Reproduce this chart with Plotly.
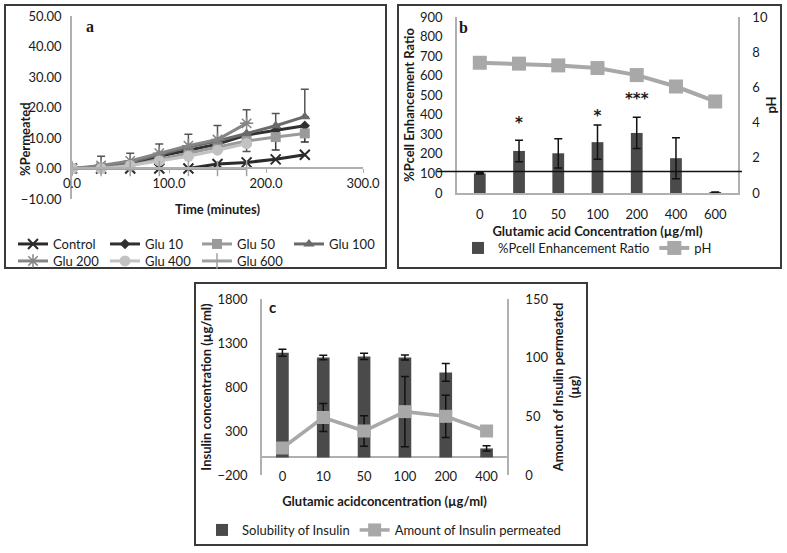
import plotly.graph_objects as go

W, H = 787, 553

# ---------------- Panel a data ----------------
time_min = [0, 30, 60, 90, 120, 150, 180, 210, 240]
time_short = [0, 30, 60, 90, 120, 150, 180]
control = [0, 0, 0, 0, 0, 1.5, 2.0, 3.0, 4.5]
glu10 = [0, 0.5, 1.5, 4.0, 6.0, 8.0, 11.0, 12.5, 14.0]
glu50 = [0, 0.3, 1.0, 3.0, 5.0, 7.0, 9.0, 10.3, 11.5]
glu100 = [0, 0.5, 2.0, 4.5, 7.0, 9.0, 11.5, 14.0, 17.0]
glu200 = [0, 1.0, 2.5, 5.0, 7.5, 9.5, 14.8]
glu400 = [0, 0, 1.0, 2.5, 4.0, 6.0, 8.2]
glu600 = [0, 0, 0, 0, 0, 0, 0]
glu200_err_up = [0, 3.0, 2.5, 3.0, 3.7, 4.6, 4.5]
glu100_err_up = [0, 0, 0, 0, 0, 0, 0, 4.0, 9.0]
glu50_err_down = [0, 0, 0, 0, 0, 0, 0, 4.2, 0]
glu10_err_down = [0, 0, 0, 0, 0, 0, 0, 0, 5.3]
glu400_err_down = [0, 0, 0, 0, 0, 0, 2.6]

# ---------------- Panel b data ----------------
glu_conc_b = ["0", "10", "50", "100", "200", "400", "600"]
pcell_ratio = [100, 215, 203, 260, 307, 178, 3]
pcell_err = [3, 55, 75, 88, 80, 105, 2]
ph_values = [7.4, 7.35, 7.25, 7.1, 6.7, 6.05, 5.2]
sig_labels = ["", "*", "", "*", "***", "", ""]
sig_y = [0, 350, 0, 385, 475, 0, 0]
reference_ratio = 110

# ---------------- Panel c data ----------------
glu_conc_c = ["0", "10", "50", "100", "200", "400"]
solubility = [1190, 1136, 1148, 1136, 966, 102]
solubility_err = [40, 25, 35, 28, 100, 30]
amount_perm = [23, 49, 37.5, 54, 50, 37.5]
amount_err = [0, 12, 13, 30, 18, 0]

FONT = "Lato"
TXT = "#1a1a1a"
AX = "#b0b0b0"
BAR = "#4a4a4a"
LGRAY = "#a8a8a8"


def px_x(x):
    return x / W


def px_y(y):
    return 1 - y / H


fig = go.Figure()

# ---- panel a traces ----
err_style = dict(type="data", thickness=1.5, width=4)
fig.add_trace(go.Scatter(x=time_min, y=control, name="Control", mode="lines+markers",
                         line=dict(color="#2b2b2b", width=3),
                         marker=dict(symbol="x-thin-open", size=10, line=dict(width=2, color="#2b2b2b")),
                         legend="legend", xaxis="x", yaxis="y"))
fig.add_trace(go.Scatter(x=time_min, y=glu10, name="Glu 10", mode="lines+markers",
                         line=dict(color="#303030", width=3),
                         marker=dict(symbol="diamond", size=8, color="#303030"),
                         error_y=dict(err_style, symmetric=False, array=[0]*9, arrayminus=glu10_err_down, color="#303030"),
                         legend="legend", xaxis="x", yaxis="y"))
fig.add_trace(go.Scatter(x=time_min, y=glu50, name="Glu 50", mode="lines+markers",
                         line=dict(color="#9a9a9a", width=3),
                         marker=dict(symbol="square", size=10, color="#9a9a9a"),
                         error_y=dict(err_style, symmetric=False, array=[0]*9, arrayminus=glu50_err_down, color="#3a3a3a"),
                         legend="legend", xaxis="x", yaxis="y"))
fig.add_trace(go.Scatter(x=time_min, y=glu100, name="Glu 100", mode="lines+markers",
                         line=dict(color="#6a6a6a", width=3),
                         marker=dict(symbol="triangle-up", size=10, color="#6a6a6a"),
                         error_y=dict(err_style, symmetric=False, array=glu100_err_up, arrayminus=[0]*9, color="#555555"),
                         legend="legend", xaxis="x", yaxis="y"))
fig.add_trace(go.Scatter(x=time_short, y=glu200, name="Glu 200", mode="lines+markers",
                         line=dict(color="#858585", width=3),
                         marker=dict(symbol="asterisk-open", size=11, line=dict(width=1.5, color="#858585")),
                         error_y=dict(err_style, symmetric=False, array=glu200_err_up, arrayminus=[0]*7, color="#555555"),
                         legend="legend4", xaxis="x", yaxis="y"))
fig.add_trace(go.Scatter(x=time_short, y=glu400, name="Glu 400", mode="lines+markers",
                         line=dict(color="#c2c2c2", width=3),
                         marker=dict(symbol="circle", size=11, color="#c2c2c2"),
                         error_y=dict(err_style, symmetric=False, array=[0]*7, arrayminus=glu400_err_down, color="#555555"),
                         legend="legend4", xaxis="x", yaxis="y"))
fig.add_trace(go.Scatter(x=time_short, y=glu600, name="Glu 600", mode="lines+markers",
                         line=dict(color="#a0a0a0", width=3),
                         marker=dict(symbol="line-ns-open", size=11, line=dict(width=1.5, color="#a0a0a0")),
                         legend="legend4", xaxis="x", yaxis="y"))

# ---- panel b traces ----
fig.add_trace(go.Bar(x=glu_conc_b, y=pcell_ratio, name="%Pcell Enhancement Ratio",
                     marker=dict(color=BAR, line=dict(width=0)), width=0.3,
                     error_y=dict(type="data", array=pcell_err, color="#111", thickness=1.5, width=4),
                     legend="legend2", xaxis="x2", yaxis="y2"))
fig.add_trace(go.Scatter(x=glu_conc_b, y=ph_values, name="pH", mode="lines+markers",
                         line=dict(color=LGRAY, width=4),
                         marker=dict(symbol="square", size=14, color=LGRAY),
                         legend="legend2", xaxis="x2", yaxis="y3"))
fig.add_trace(go.Scatter(x=glu_conc_b, y=sig_y, text=sig_labels, mode="text",
                         textfont=dict(family="DejaVu Sans", size=15, color=TXT, weight="bold"),
                         textposition="middle center",
                         showlegend=False, hoverinfo="skip", xaxis="x2", yaxis="y2"))

# ---- panel c traces ----
fig.add_trace(go.Bar(x=glu_conc_c, y=solubility, name="Solubility of Insulin",
                     marker=dict(color=BAR, line=dict(width=0)), width=0.31,
                     error_y=dict(type="data", array=solubility_err, color="#111", thickness=1.5, width=4),
                     legend="legend3", xaxis="x3", yaxis="y4"))
fig.add_trace(go.Scatter(x=glu_conc_c, y=amount_perm, name="Amount of Insulin permeated", mode="lines+markers",
                         line=dict(color=LGRAY, width=3.5),
                         marker=dict(symbol="square", size=13, color=LGRAY),
                         error_y=dict(type="data", array=amount_err, color="#111", thickness=1.5, width=4),
                         legend="legend3", xaxis="x3", yaxis="y5"))

tickf = dict(family=FONT, size=13, color=TXT)
titlef = dict(family=FONT, size=13, color=TXT, weight="bold")
legf = dict(family=FONT, size=13, color=TXT)

a_dom_y = [px_y(199), px_y(16)]
b_dom_y = [px_y(193), px_y(17)]
c_dom_y = [px_y(475), px_y(299)]

fig.update_layout(
    width=W, height=H, margin=dict(l=0, r=0, t=0, b=0, autoexpand=False),
    paper_bgcolor="white", plot_bgcolor="rgba(0,0,0,0)",
    font=dict(family=FONT, color=TXT),
    barmode="overlay",
    # panel a
    xaxis=dict(domain=[px_x(72), px_x(363)], range=[0, 300], dtick=100, tickformat=".1f",
               anchor="free", position=px_y(168), showline=True, linecolor=AX, linewidth=1.5,
               ticks="outside", ticklen=4, tickcolor=AX, showgrid=False, zeroline=False,
               automargin=False,
               tickfont=tickf, title=dict(text="Time (minutes)", font=titlef, standoff=14)),
    yaxis=dict(domain=a_dom_y, range=[-10, 50], dtick=10, tickformat=".2f", anchor="x",
               showline=True, linecolor=AX, linewidth=1.5, showgrid=False, zeroline=False,
               automargin=False, ticklabelstandoff=6, tickfont=tickf),
    # panel b
    xaxis2=dict(domain=[px_x(457), px_x(738)], anchor="y2", type="category",
                showline=True, linecolor=AX, linewidth=1.5, showgrid=False, zeroline=False,
                automargin=False, tickfont=tickf, ticklabelstandoff=9,
                title=dict(text="Glutamic acid Concentration (µg/ml)", font=titlef, standoff=6)),
    yaxis2=dict(domain=b_dom_y, range=[0, 900], dtick=100, anchor="x2",
                showline=True, linecolor=AX, linewidth=1.5, showgrid=False, zeroline=False,
                automargin=False, tickfont=tickf, ticklabelstandoff=10,
                title=dict(text="%Pcell Enhancement Ratio", font=titlef, standoff=2)),
    yaxis3=dict(range=[0, 10], dtick=2, anchor="x2", overlaying="y2", side="right",
                showline=True, linecolor=AX, linewidth=1.5, showgrid=False, zeroline=False,
                automargin=False, tickfont=tickf, ticklabelstandoff=10,
                title=dict(text="pH", font=titlef, standoff=0)),
    # panel c
    xaxis3=dict(domain=[px_x(262), px_x(507)], anchor="free", position=px_y(467), type="category",
                showline=False, showgrid=False, zeroline=False, tickfont=tickf,
                automargin=False,
                title=dict(text="Glutamic acidconcentration (µg/ml)", font=titlef, standoff=13)),
    yaxis4=dict(domain=c_dom_y, range=[-200, 1800], tick0=-200, dtick=500, anchor="x3",
                showline=True, linecolor=AX, linewidth=1.5, showgrid=False,
                zeroline=True, zerolinecolor=AX, zerolinewidth=1.5,
                automargin=False, tickfont=tickf, ticklabelstandoff=10,
                title=dict(text="Insulin concentration (µg/ml)", font=titlef, standoff=3)),
    yaxis5=dict(range=[0, 150], dtick=50, anchor="x3", overlaying="y4", side="right",
                showline=True, linecolor=AX, linewidth=1.5, showgrid=False, zeroline=False,
                automargin=False, tickfont=tickf, ticklabelstandoff=14,
                title=dict(text="Amount of Insulin permeated<br>(µg)", font=titlef, standoff=6)),
    legend=dict(x=px_x(13), y=px_y(229), xanchor="left", yanchor="top", orientation="h",
                font=legf, bgcolor="rgba(0,0,0,0)", entrywidth=47, entrywidthmode="pixels",
                itemwidth=30, tracegroupgap=0),
    legend4=dict(x=px_x(13), y=px_y(246), xanchor="left", yanchor="top", orientation="h",
                 font=legf, bgcolor="rgba(0,0,0,0)", entrywidth=47, entrywidthmode="pixels",
                 itemwidth=30),
    legend2=dict(x=px_x(458), y=px_y(233), xanchor="left", yanchor="top", orientation="h",
                 font=legf, bgcolor="rgba(0,0,0,0)", itemwidth=30),
    legend3=dict(x=px_x(202), y=px_y(515), xanchor="left", yanchor="top", orientation="h",
                 font=legf, bgcolor="rgba(0,0,0,0)", itemwidth=30),
)

# panel boxes
box = dict(type="rect", xref="paper", yref="paper", line=dict(color="#3a3a3a", width=2), fillcolor="rgba(0,0,0,0)")
fig.add_shape(box, x0=px_x(5), x1=px_x(386), y0=px_y(268), y1=px_y(5))
fig.add_shape(box, x0=px_x(398), x1=px_x(781), y0=px_y(268), y1=px_y(5))
fig.add_shape(box, x0=px_x(195), x1=px_x(587), y0=px_y(545), y1=px_y(283))

# reference line in panel b
fig.add_shape(type="line", xref="paper", yref="y2", x0=px_x(437), x1=px_x(742),
              y0=reference_ratio, y1=reference_ratio, line=dict(color="#111", width=1.5))

# panel a y-axis title (placed as rotated text)
fig.add_annotation(x=px_x(15), y=px_y(100), xref="paper", yref="paper", text="<b>%Permeated</b>",
                   textangle=-90, showarrow=False, font=dict(family=FONT, size=13, color=TXT))

# panel labels
fig.add_annotation(x=px_x(84), y=px_y(16), xref="paper", yref="paper", text="<b>a</b>", showarrow=False,
                   font=dict(family="Liberation Serif", size=16, color=TXT))
fig.add_annotation(x=px_x(464), y=px_y(17), xref="paper", yref="paper", text="<b>b</b>", showarrow=False,
                   font=dict(family="Liberation Serif", size=16, color=TXT))
fig.add_annotation(x=px_x(272), y=px_y(307), xref="paper", yref="paper", text="<b>c</b>", showarrow=False,
                   font=dict(family=FONT, size=15, color=TXT))

fig.write_html("out.html", config={"displayModeBar": False},
               post_script="document.body.style.margin='0';document.body.style.overflow='hidden';")
